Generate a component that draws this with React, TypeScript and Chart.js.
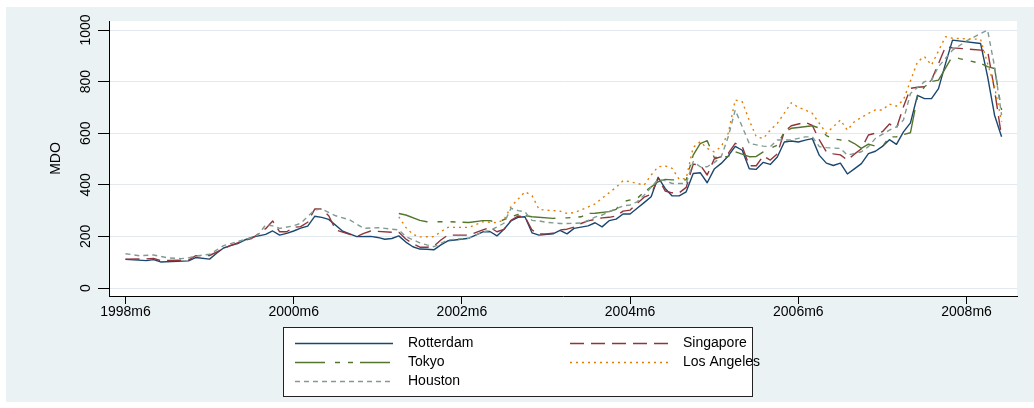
import React, { useEffect, useRef } from 'react';
import { Chart, registerables } from 'chart.js';

Chart.register(...registerables);

const FONT = '"Liberation Sans", Arial, Helvetica, sans-serif';
const W = 1034;
const H = 408;

// x values are months since 1998m6
const xTickMonths = [0, 24, 48, 72, 96, 120];
const xTickLabels = ['1998m6', '2000m6', '2002m6', '2004m6', '2006m6', '2008m6'];
const yTickValues = [0, 200, 400, 600, 800, 1000];
const yTitle = 'MDO';

const seriesNames = ['Rotterdam', 'Singapore', 'Tokyo', 'Los Angeles', 'Houston'];
const seriesColors = ['#1a476f', '#90353b', '#55752f', '#e37e00', '#7f9b92'];

const rotterdam: number[][] = [
  [0, 111], [3, 106], [4, 110], [5, 101], [9, 105], [10, 118], [12, 112], [13, 135], [14, 155], [15, 164],
  [16, 172], [17, 186], [18, 196], [20, 208], [21, 221], [22, 205], [23, 212], [24, 221], [25, 232], [26, 240],
  [27, 278], [28, 274], [29, 266], [31, 220], [32, 210], [33, 199], [35, 200], [36, 196], [37, 189], [38, 192],
  [39, 202], [40, 178], [41, 160], [42, 151], [43, 150], [44, 148], [45, 167], [46, 183], [47, 186], [49, 193],
  [51, 218], [52, 219], [53, 202], [54, 228], [55, 260], [56, 274], [57, 276], [58, 214], [59, 205], [61, 210],
  [62, 223], [63, 210], [64, 231], [65, 236], [66, 241], [67, 253], [68, 237], [69, 261], [70, 267], [71, 287],
  [72, 287], [73, 309], [74, 331], [75, 354], [76, 429], [77, 386], [78, 357], [79, 357], [80, 373], [81, 444],
  [82, 447], [83, 408], [84, 461], [85, 483], [86, 512], [87, 549], [88, 534], [89, 462], [90, 460], [91, 487],
  [92, 479], [93, 508], [94, 566], [95, 570], [96, 566], [97, 573], [98, 579], [99, 514], [100, 484], [101, 475],
  [102, 484], [103, 442], [104, 462], [105, 482], [106, 521], [107, 530], [108, 549], [109, 575], [110, 557], [111, 605],
  [112, 640], [113, 747], [114, 734], [115, 734], [116, 773], [117, 870], [118, 961], [122, 948], [123, 820], [124, 670],
  [125, 586],
];

const singapore: number[][] = [
  [0, 112], [3, 113], [4, 115], [5, 106], [9, 108], [10, 125], [12, 126], [15, 165], [16, 175], [17, 185],
  [18, 192], [20, 230], [21, 260], [22, 218], [23, 218], [24, 235], [25, 238], [26, 255], [27, 306], [28, 306],
  [29, 280], [30, 225], [32, 208], [33, 199], [34, 212], [35, 221], [38, 216], [39, 216], [40, 190], [41, 172],
  [42, 158], [43, 158], [44, 162], [45, 186], [46, 205], [49, 205], [51, 225], [52, 235], [53, 218], [54, 227],
  [55, 262], [56, 279], [57, 276], [58, 225], [59, 209], [60, 210], [61, 212], [62, 225], [63, 228], [64, 236],
  [65, 250], [66, 260], [67, 266], [68, 272], [69, 274], [70, 279], [71, 298], [72, 302], [73, 328], [74, 352],
  [75, 364], [76, 425], [77, 376], [78, 369], [79, 369], [80, 390], [81, 480], [82, 477], [83, 438], [84, 500],
  [85, 509], [86, 522], [87, 561], [88, 548], [89, 474], [90, 474], [91, 512], [92, 496], [93, 520], [94, 606],
  [95, 629], [97, 642], [98, 630], [99, 574], [100, 528], [101, 520], [102, 516], [103, 496], [104, 519], [105, 540],
  [106, 593], [107, 600], [108, 606], [109, 636], [110, 619], [111, 703], [112, 774], [113, 778], [114, 780], [115, 806],
  [116, 870], [117, 935], [118, 931], [123, 920], [124, 767], [125, 586],
];

const tokyo: number[][] = [
  [39, 289], [40, 283], [42, 262], [43, 257], [46, 257], [49, 254], [51, 261], [52, 261], [53, 254], [55, 276],
  [56, 285], [58, 276], [61, 270], [63, 272], [65, 276], [66, 289], [67, 290], [69, 296], [70, 305], [71, 335],
  [73, 347], [74, 372], [76, 412], [77, 421], [78, 419], [80, 419], [81, 515], [82, 560], [83, 571], [84, 506],
  [85, 506], [86, 510], [87, 528], [89, 509], [90, 510], [91, 528], [92, 541], [93, 554], [94, 605], [95, 619],
  [96, 622], [98, 629], [99, 620], [100, 591], [101, 578], [102, 574], [103, 574], [104, 560], [105, 541], [106, 558],
  [107, 550], [108, 548], [109, 586], [110, 586], [111, 595], [112, 602], [113, 741], [114, 780], [115, 800], [116, 806],
  [118, 899], [119, 889], [122, 871], [123, 858], [124, 851], [125, 690],
];

const losAngeles: number[][] = [
  [39, 276], [40, 235], [41, 208], [42, 198], [44, 199], [45, 218], [46, 235], [49, 235], [51, 257], [53, 253],
  [54, 264], [55, 315], [57, 373], [58, 358], [59, 305], [60, 302], [62, 298], [63, 289], [64, 292], [65, 302],
  [67, 326], [68, 348], [70, 390], [71, 416], [72, 412], [74, 399], [75, 438], [76, 470], [77, 473], [78, 464],
  [79, 421], [80, 425], [81, 545], [82, 567], [83, 541], [84, 528], [85, 548], [86, 600], [87, 729], [88, 722],
  [89, 650], [90, 586], [91, 580], [92, 612], [93, 638], [95, 718], [96, 700], [97, 690], [98, 677], [99, 638],
  [100, 600], [102, 651], [103, 612], [104, 645], [106, 677], [107, 690], [108, 690], [109, 713], [110, 705], [111, 729],
  [113, 877], [114, 897], [115, 864], [117, 974], [118, 968], [122, 964], [123, 871], [124, 780], [125, 645],
];

const houston: number[][] = [
  [0, 133], [2, 125], [4, 128], [6, 117], [8, 114], [9, 117], [10, 124], [12, 131], [14, 164], [16, 180],
  [18, 195], [19, 208], [20, 245], [21, 241], [22, 231], [24, 241], [25, 251], [27, 303], [28, 306], [30, 280],
  [32, 264], [34, 231], [36, 234], [37, 231], [39, 225], [40, 199], [42, 175], [43, 167], [44, 160], [46, 186],
  [47, 189], [49, 193], [51, 218], [52, 222], [54, 251], [55, 309], [56, 300], [57, 295], [58, 262], [59, 260],
  [60, 255], [62, 250], [63, 250], [65, 252], [66, 262], [67, 275], [68, 283], [69, 296], [71, 318], [72, 322],
  [73, 334], [74, 360], [76, 421], [77, 416], [78, 405], [80, 405], [81, 490], [82, 470], [83, 470], [84, 486],
  [85, 509], [86, 586], [87, 690], [88, 625], [89, 560], [91, 550], [92, 548], [93, 574], [95, 574], [96, 580],
  [97, 586], [98, 586], [99, 548], [100, 544], [102, 541], [103, 515], [104, 522], [105, 528], [106, 548], [107, 580],
  [109, 612], [110, 625], [111, 651], [112, 754], [114, 800], [115, 805], [116, 858], [118, 922], [120, 958], [123, 1000],
  [124, 858], [125, 670],
];

const seriesData = [rotterdam, singapore, tokyo, losAngeles, houston];
const seriesDash: number[][] = [[], [14, 7], [30, 10, 5, 8, 5, 7], [2, 4], [5, 4]];

// legend layout: [column, row]
const legendSlots = [[0, 0], [1, 0], [0, 1], [1, 1], [0, 2]];

export default function App() {
  const ref = useRef<HTMLCanvasElement | null>(null);

  useEffect(() => {
    const canvas = ref.current;
    if (!canvas) return;

    const decor = {
      id: 'stataDecor',
      beforeDraw(chart: any) {
        const ctx = chart.ctx;
        const a = chart.chartArea;
        ctx.save();
        ctx.fillStyle = '#ffffff';
        ctx.fillRect(0, 0, W, H);
        ctx.fillStyle = '#eaf2f3';
        ctx.fillRect(6, 7, W - 6, 402 - 7);
        ctx.fillStyle = '#ffffff';
        ctx.fillRect(a.left, a.top, a.right - a.left, a.bottom - a.top);
        ctx.restore();
      },
      afterDraw(chart: any) {
        const ctx = chart.ctx;
        const ys = chart.scales.y;
        const a = chart.chartArea;
        ctx.save();
        ctx.fillStyle = '#000';
        ctx.font = `14px ${FONT}`;
        ctx.textAlign = 'center';
        ctx.textBaseline = 'middle';
        yTickValues.forEach((v) => {
          const py = ys.getPixelForValue(v);
          ctx.save();
          ctx.translate(86, py);
          ctx.rotate(-Math.PI / 2);
          ctx.fillText(String(v), 0, 0);
          ctx.restore();
        });
        ctx.save();
        ctx.translate(56, (a.top + a.bottom) / 2);
        ctx.rotate(-Math.PI / 2);
        ctx.fillText(yTitle, 0, 0);
        ctx.restore();

        // legend box
        const bx = 283, by = 327, bw = 469, bh = 69;
        ctx.fillStyle = '#ffffff';
        ctx.fillRect(bx, by, bw, bh);
        ctx.strokeStyle = '#222';
        ctx.lineWidth = 1;
        ctx.strokeRect(bx + 0.5, by + 0.5, bw, bh);
        const colSample = [295, 570];
        const colText = [408, 683];
        const rowY = [343, 362, 381];
        chart.data.datasets.forEach((ds: any, i: number) => {
          const [c, r] = legendSlots[i];
          const y = rowY[r] + 0.5;
          ctx.save();
          ctx.strokeStyle = ds.borderColor;
          ctx.lineWidth = ds.borderWidth;
          ctx.setLineDash(ds.borderDash || []);
          ctx.beginPath();
          ctx.moveTo(colSample[c], y);
          ctx.lineTo(colSample[c] + 98, y);
          ctx.stroke();
          ctx.restore();
          ctx.fillStyle = '#000';
          ctx.textAlign = 'left';
          ctx.textBaseline = 'middle';
          ctx.font = `14px ${FONT}`;
          ctx.fillText(ds.label, colText[c], rowY[r]);
        });
        ctx.restore();
      },
    };

    const chart = new Chart(canvas, {
      type: 'line',
      data: {
        datasets: seriesNames.map((name, i) => ({
          label: name,
          data: seriesData[i].map(([m, v]) => ({ x: m, y: v })),
          borderColor: seriesColors[i],
          backgroundColor: seriesColors[i],
          borderWidth: 1.4,
          borderDash: seriesDash[i],
          borderJoinStyle: 'round',
          pointRadius: 0,
          pointHoverRadius: 0,
          tension: 0,
          fill: false,
          order: seriesNames.length - i,
        })),
      },
      options: {
        responsive: false,
        maintainAspectRatio: false,
        devicePixelRatio: 1,
        animation: false,
        events: [],
        layout: { padding: { top: 21, right: 17, left: 0, bottom: 0 } },
        plugins: {
          legend: { display: false },
          tooltip: { enabled: false },
          title: { display: false },
        },
        scales: {
          x: {
            type: 'linear',
            min: -2.35,
            max: 127.2,
            afterBuildTicks: (s: any) => {
              s.ticks = xTickMonths.map((v) => ({ value: v }));
            },
            afterFit: (s: any) => {
              s.height = 112;
            },
            ticks: {
              autoSkip: false,
              maxRotation: 0,
              minRotation: 0,
              padding: 0,
              color: '#000',
              font: { family: FONT, size: 14 },
              callback: (_v: any, idx: number) => xTickLabels[idx] ?? '',
            },
            grid: {
              drawOnChartArea: false,
              drawTicks: true,
              tickLength: 8,
              tickColor: '#000',
              tickWidth: 1,
            },
            border: { display: true, color: '#000', width: 1 },
          },
          y: {
            type: 'linear',
            min: -31,
            max: 1035,
            afterBuildTicks: (s: any) => {
              s.ticks = yTickValues.map((v) => ({ value: v }));
            },
            afterFit: (s: any) => {
              s.width = 109;
            },
            ticks: { display: false },
            grid: {
              color: '#e1e9ee',
              lineWidth: 1,
              drawTicks: true,
              tickLength: 11,
              tickColor: '#000',
              tickWidth: 1,
            },
            border: { display: true, color: '#000', width: 1 },
          },
        },
      },
      plugins: [decor],
    } as any);

    return () => {
      chart.destroy();
    };
  }, []);

  return (
    <div style={{ position: 'absolute', left: 0, top: 0, width: W, height: H }}>
      <canvas ref={ref} width={W} height={H} style={{ display: 'block', width: W, height: H }} />
    </div>
  );
}
